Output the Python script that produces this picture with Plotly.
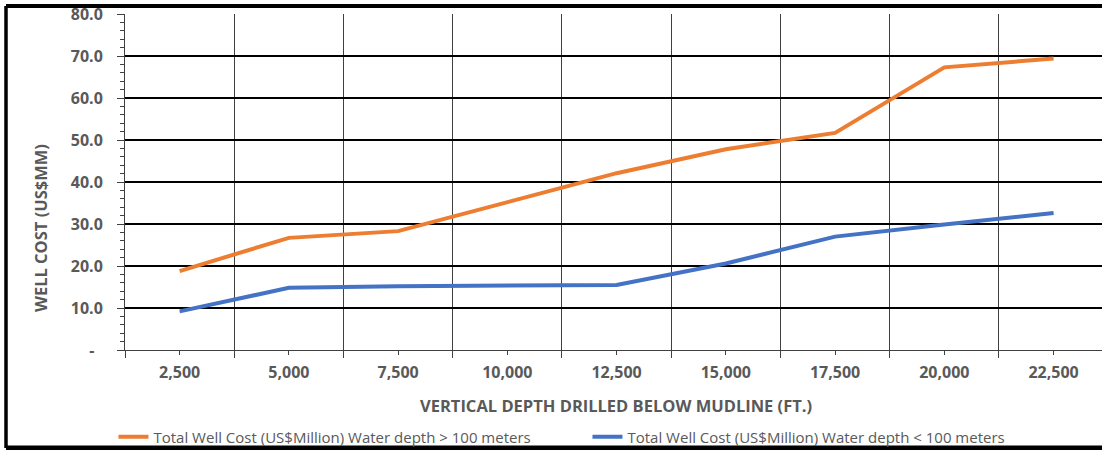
import plotly.graph_objects as go

depths = [2500, 5000, 7500, 10000, 12500, 15000, 17500, 20000, 22500]
cost_deep = [18.8, 26.7, 28.3, 35.3, 42.1, 47.8, 51.7, 67.3, 69.4]
cost_shallow = [9.2, 14.8, 15.2, 15.3, 15.5, 20.6, 27.0, 29.9, 32.6]
name_deep = "Total Well Cost (US$Million) Water depth > 100 meters"
name_shallow = "Total Well Cost (US$Million) Water depth < 100 meters"
y_tick_vals = [0, 10, 20, 30, 40, 50, 60, 70, 80]
y_tick_text = ["-\u00a0\u00a0", "10.0", "20.0", "30.0", "40.0", "50.0", "60.0", "70.0", "80.0"]
x_title = "VERTICAL DEPTH DRILLED BELOW MUDLINE (FT.)"
y_title = "WELL COST (US$MM)"

GRAY = "#595959"
FONT = "Open Sans"

fig = go.Figure()
fig.add_trace(go.Scatter(x=depths, y=cost_deep, mode="lines", name=name_deep,
                         line=dict(color="#ED7D31", width=4)))
fig.add_trace(go.Scatter(x=depths, y=cost_shallow, mode="lines", name=name_shallow,
                         line=dict(color="#4472C4", width=4)))

fig.update_layout(
    width=1102, height=450,
    margin=dict(l=125, r=0, t=14, b=100, autoexpand=False),
    paper_bgcolor="white", plot_bgcolor="white",
    showlegend=True,
    legend=dict(orientation="h", x=-0.0118, xanchor="left", y=-0.259, yanchor="middle",
                font=dict(family=FONT, size=15, color=GRAY),
                entrywidth=429, entrywidthmode="pixels", itemwidth=30,
                bgcolor="rgba(0,0,0,0)"),
    font=dict(family=FONT, color=GRAY),
)

fig.update_xaxes(
    range=[1250, 23608], tickmode="array", tickvals=depths, automargin=False,
    tickformat=",d", showgrid=False, zeroline=False,
    ticks="outside", ticklen=4, tickcolor="#404040", tickwidth=1,
    showline=True, linecolor="#404040", linewidth=1,
    tickfont=dict(family=FONT, size=16, color=GRAY, weight="bold"),
    ticklabelstandoff=4,
    minor=dict(tickmode="linear", tick0=1250, dtick=2500, ticks="outside", ticklen=7,
               tickcolor="#404040", tickwidth=1, showgrid=True,
               gridcolor="#404040", gridwidth=1.3),
)
fig.update_yaxes(
    range=[0, 80], tickmode="array", tickvals=y_tick_vals, ticktext=y_tick_text,
    automargin=False,
    showgrid=True, gridcolor="black", gridwidth=2, zeroline=False,
    ticks="outside", ticklen=7, tickcolor="#404040", tickwidth=1,
    showline=True, linecolor="#404040", linewidth=1,
    tickfont=dict(family=FONT, size=16, color=GRAY, weight="bold"),
    ticklabelstandoff=11,
    minor=dict(tickmode="linear", tick0=0, dtick=2, ticks="outside", ticklen=4,
               tickcolor="#404040", tickwidth=1, showgrid=False),
)

fig.add_annotation(text=x_title, xref="paper", yref="paper", x=0.5026, y=-0.1637,
                   showarrow=False, xanchor="center", yanchor="middle",
                   font=dict(family=FONT, size=16.5, color=GRAY, weight="bold"))
fig.add_annotation(text=y_title, xref="paper", yref="paper", x=-0.087, y=0.363,
                   showarrow=False, xanchor="center", yanchor="middle", textangle=-90,
                   font=dict(family=FONT, size=16.5, color=GRAY, weight="bold"))

# outer frame (cropped chart border)
fig.add_shape(type="line", xref="paper", yref="paper", x0=-0.1218, x1=-0.1218,
              y0=-0.2917, y1=1.0238, line=dict(color="black", width=3.5))
fig.add_shape(type="line", xref="paper", yref="paper", x0=-0.1218, x1=1.2,
              y0=-0.2917, y1=-0.2917, line=dict(color="black", width=5))
fig.add_shape(type="line", xref="paper", yref="paper", x0=-0.1218, x1=1.2,
              y0=1.0238, y1=1.0238, line=dict(color="black", width=4))

fig.write_html("out.html", config={"displayModeBar": False},
               post_script="document.body.style.margin='0';document.body.style.overflow='hidden';")
